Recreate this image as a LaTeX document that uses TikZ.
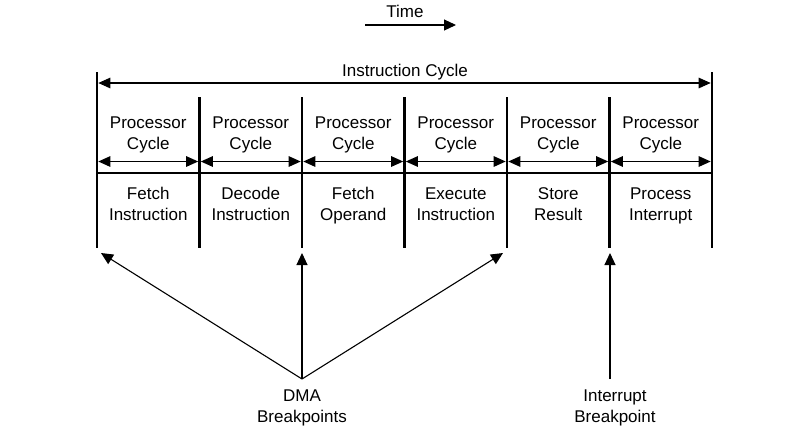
\documentclass[tikz,border=0pt]{standalone}
\usepackage{fontspec}
\setmainfont{Liberation Sans}
\usetikzlibrary{arrows.meta}
\begin{document}
\begin{tikzpicture}[x=1pt,y=-1pt,
  lbl/.style={font=\fontsize{17}{21}\selectfont, align=center, inner sep=0pt, anchor=base},
  bar/.style={line width=2.6pt},
  rule/.style={line width=2pt},
  dbl/.style={{Triangle[length=12pt,width=10.5pt]}-{Triangle[length=12pt,width=10.5pt]}, line width=1.1pt},
  ptr/.style={-{Triangle[length=12pt,width=11pt]}, line width=1.1pt}]
\useasboundingbox (0,0) rectangle (810,437);
% vertical division lines
\foreach \i/\x in {0/97,1/199.5,2/302,3/404.5,4/507,5/609.5,6/712}{
  \coordinate (t\i) at (\x,97);
  \coordinate (b\i) at (\x,248);
  \coordinate (p\i) at (\x,161.5);
  \coordinate (h\i) at (\x,172.8);
}
\coordinate (T0) at (97,72);
\coordinate (T6) at (712,72);
\draw[bar] (T0) -- (b0);
\draw[bar] (T6) -- (b6);
\foreach \i in {1,...,5}{\draw[bar] (t\i) -- (b\i);}
\draw[rule] (h0) -- (h6);
% time
\node[lbl] (time) at (405,17) {Time};
\coordinate (tA) at (365,25);
\coordinate (tB) at (456,25);
\draw[ptr] (tA) -- (tB);
% instruction cycle
\node[lbl] (ic) at (405,76) {Instruction Cycle};
\coordinate (ic0) at (98.3,83);
\coordinate (ic6) at (710.7,83);
\draw[dbl] (ic0) -- (ic6);
% processor cycles
\foreach \i/\j/\m in {0/1/148.25,1/2/250.75,2/3/353.25,3/4/455.75,4/5/558.25,5/6/660.75}{
  \draw[dbl] ([xshift=1.3pt]p\i) -- ([xshift=-1.3pt]p\j);
  \node[lbl] (pc\i) at (\m,149) {Processor\\Cycle};
}
\node[lbl] (s0) at (148.25,220) {Fetch\\Instruction};
\node[lbl] (s1) at (250.75,220) {Decode\\Instruction};
\node[lbl] (s2) at (353.25,220) {Fetch\\Operand};
\node[lbl] (s3) at (455.75,220) {Execute\\Instruction};
\node[lbl] (s4) at (558.25,220) {Store\\Result};
\node[lbl] (s5) at (660.75,220) {Process\\Interrupt};
% breakpoints
\node[lbl] (dma) at (302,422) {DMA\\Breakpoints};
\node[lbl] (intr) at (615,422) {Interrupt\\Breakpoint};
\coordinate (dmaP) at (302,379);
\coordinate (intP) at (610,379);
\coordinate (tipL) at (101,253);
\coordinate (tipM) at (302,253);
\coordinate (tipR) at (503,253);
\coordinate (tipI) at (610,253);
\draw[ptr] (dmaP) -- (tipL);
\draw[ptr] (dmaP) -- (tipM);
\draw[ptr] (dmaP) -- (tipR);
\draw[ptr] (intP) -- (tipI);
\end{tikzpicture}
\end{document}
